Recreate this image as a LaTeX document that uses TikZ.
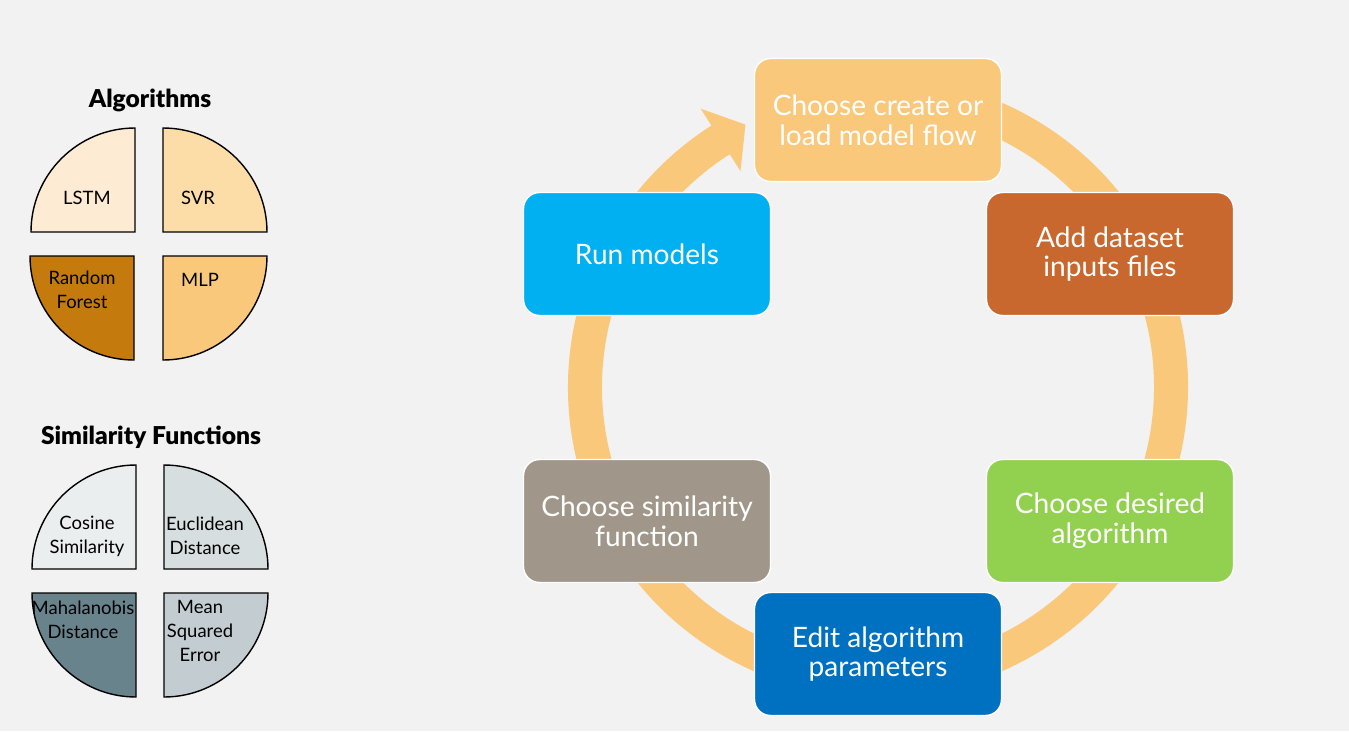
\documentclass[tikz,border=0pt]{standalone}
\usepackage{fontspec}
\setmainfont{Lato}
\newfontfamily\heavyfont{Lato Black}

\definecolor{bgcol}{HTML}{F2F2F2}
\definecolor{ringcol}{HTML}{F9C87A}
\definecolor{loadcol}{HTML}{F9C87A}
\definecolor{datacol}{HTML}{C8682F}
\definecolor{algocol}{HTML}{92D050}
\definecolor{paramcol}{HTML}{0070C0}
\definecolor{simcol}{HTML}{A0978A}
\definecolor{runcol}{HTML}{00B0F0}
\definecolor{lstmcol}{HTML}{FDEBD3}
\definecolor{svrcol}{HTML}{FCDDA8}
\definecolor{rfcol}{HTML}{C47A0C}
\definecolor{mlpcol}{HTML}{F9C87A}
\definecolor{cosinecol}{HTML}{EAEEEF}
\definecolor{euclidcol}{HTML}{D7DEE0}
\definecolor{mahalcol}{HTML}{69838C}
\definecolor{msecol}{HTML}{C3CDD1}

\begin{document}
\begin{tikzpicture}[
        x=0.02cm, y=0.02cm,
        stepbox/.style={draw=white, line width=0.8pt, rounded corners=0.32cm,
            minimum width=4.94cm, minimum height=2.46cm, text=white,
            align=center, font=\fontsize{16}{17}\selectfont},
        quad/.style={draw=black, line width=0.8pt},
        quadtext/.style={align=center, font=\fontsize{10.5}{13.5}\selectfont},
        headline/.style={font=\fontsize{14}{16}\selectfont\heavyfont}
        ]
        \useasboundingbox[fill=bgcol] (0,0) rectangle (1349,-731);

        % left side: algorithms
        \node (algos) [headline] at (150,-100) {Algorithms};
        \filldraw[quad, fill=lstmcol] (135,-232) -- ++(0,104) arc[start angle=90, end angle=180, radius=104] -- cycle;
        \filldraw[quad, fill=svrcol] (163,-232) -- ++(104,0) arc[start angle=0, end angle=90, radius=104] -- cycle;
        \filldraw[quad, fill=rfcol] (134,-256) -- ++(0,-104) arc[start angle=270, end angle=180, radius=104] -- cycle;
        \filldraw[quad, fill=mlpcol] (163,-256) -- ++(104,0) arc[start angle=0, end angle=-90, radius=104] -- cycle;
        \node (lstm) [quadtext] at (87,-198) {LSTM};
        \node (svr) [quadtext] at (198,-198) {SVR};
        \node (rf) [quadtext] at (82,-290) {Random\\Forest};
        \node (mlp) [quadtext] at (200,-280) {MLP};

        % left side: similarity functions
        \node (simfuncs) [headline] at (151,-437) {Similarity Functions};
        \filldraw[quad, fill=cosinecol] (136,-569) -- ++(0,104) arc[start angle=90, end angle=180, radius=104] -- cycle;
        \filldraw[quad, fill=euclidcol] (164,-569) -- ++(104,0) arc[start angle=0, end angle=90, radius=104] -- cycle;
        \filldraw[quad, fill=mahalcol] (136,-593) -- ++(0,-104) arc[start angle=270, end angle=180, radius=104] -- cycle;
        \filldraw[quad, fill=msecol] (164,-593) -- ++(104,0) arc[start angle=0, end angle=-90, radius=104] -- cycle;
        \node (cosine) [quadtext] at (87,-536) {Cosine\\Similarity};
        \node (euclid) [quadtext] at (205,-536) {Euclidean\\Distance};
        \node (mahal) [quadtext] at (83,-620) {Mahalanobis\\Distance};
        \node (mse) [quadtext] at (200,-631) {Mean\\Squared\\Error};

        % cycle arrow behind the steps
        \begin{scope}[shift={(878,-387)}]
            \fill[ringcol] (80:310) arc[start angle=80, end angle=-237.5, radius=310]
                -- (122.5:330) -- (116.8:294) -- (122.5:256) -- (122.5:276)
                arc[start angle=122.5, end angle=440, radius=276] -- cycle;
        \end{scope}

        % steps of the flow
        \node (load) [stepbox, fill=loadcol] at (878,-120) {Choose create or\\load model flow};
        \node (data) [stepbox, fill=datacol] at (1110,-254) {Add dataset\\inputs files};
        \node (algo) [stepbox, fill=algocol] at (1110,-521) {Choose desired\\algorithm};
        \node (params) [stepbox, fill=paramcol] at (878,-654) {Edit algorithm\\parameters};
        \node (sim) [stepbox, fill=simcol] at (647,-521) {Choose similarity\\function};
        \node (run) [stepbox, fill=runcol] at (647,-254) {Run models};
    \end{tikzpicture}
\end{document}
